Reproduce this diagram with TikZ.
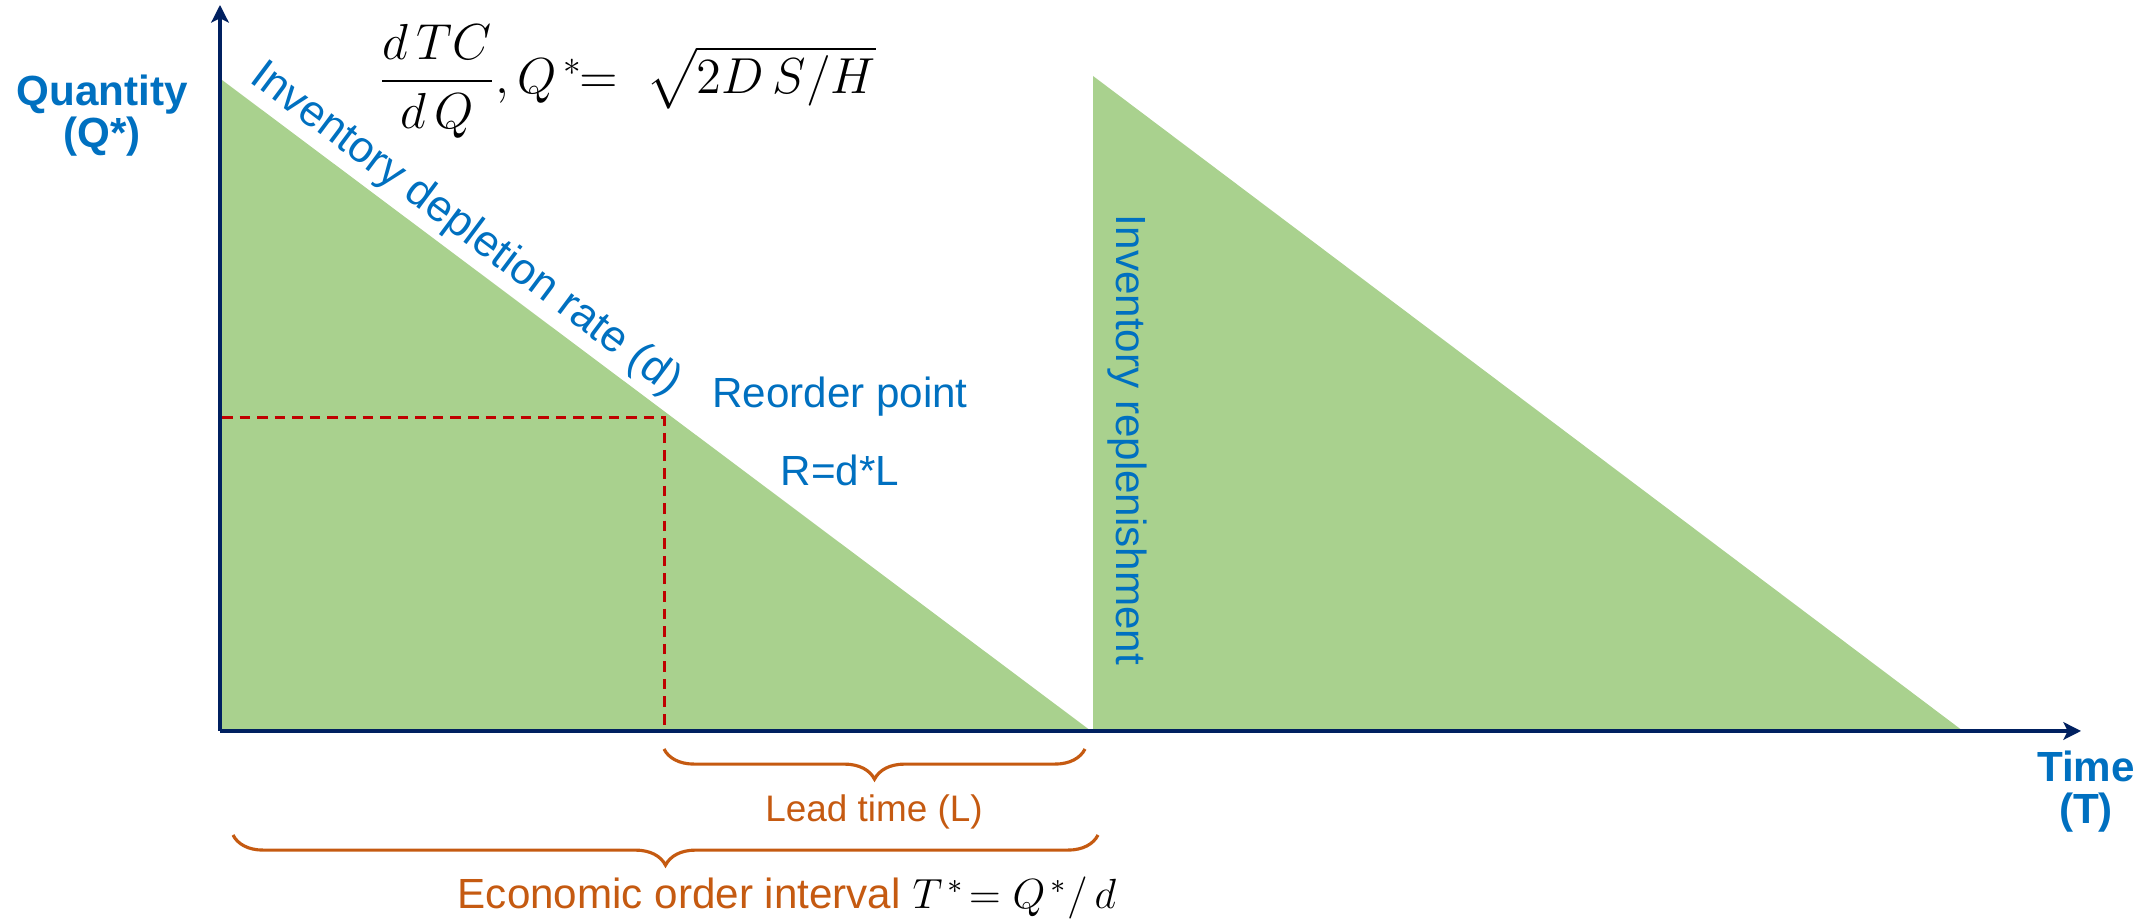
\documentclass[tikz,border=0pt]{standalone}
\usepackage{amsmath}
\usepackage{fontspec}
\setmainfont{Liberation Sans}
\usetikzlibrary{arrows.meta,decorations.pathreplacing}
\definecolor{stockgreen}{HTML}{A9D18E}
\definecolor{labelblue}{HTML}{0070C0}
\definecolor{axisnavy}{HTML}{002060}
\definecolor{spanorange}{HTML}{C55A11}
\definecolor{reorderred}{HTML}{C00000}
\begin{document}
\begin{tikzpicture}[
  axisline/.style={axisnavy,line width=1.4pt,-{Stealth[length=5pt,width=5pt,inset=1.2pt]}},
  spanbrace/.style={spanorange,line width=0.9pt,decorate,decoration={brace,mirror,amplitude=8.6pt}},
  bluelabel/.style={labelblue,font=\fontsize{12}{12}\selectfont},
  axislabel/.style={labelblue,font=\fontsize{12}{12}\selectfont\bfseries,align=center},
  spanlabel/.style={spanorange,font=\fontsize{12}{12}\selectfont}
]
\useasboundingbox (0,0) rectangle (21.54,9.22);
\coordinate (O) at (2.20,1.91);
\coordinate (Ytop) at (2.20,9.17);
\coordinate (Xend) at (20.81,1.91);
\coordinate (A1) at (2.22,8.42);
\coordinate (F1) at (2.22,1.91);
\coordinate (B1) at (10.91,1.91);
\coordinate (A2) at (10.93,8.46);
\coordinate (F2) at (10.93,1.91);
\coordinate (B2) at (19.63,1.91);
\coordinate (RP) at (6.64,5.04);
\coordinate (RPx) at (2.22,5.04);
\coordinate (RPt) at (6.64,1.91);
\coordinate (LT1) at (6.64,1.73);
\coordinate (LT2) at (10.85,1.73);
\coordinate (EI1) at (2.33,0.87);
\coordinate (EI2) at (10.98,0.87);
% inventory cycles
\fill[stockgreen] (A1) -- (F1) -- (B1) -- cycle;
\fill[stockgreen] (A2) -- (F2) -- (B2) -- cycle;
\path (A1) -- (B1) node[pos=0.262,sloped,above,inner sep=1.5pt,labelblue,font=\fontsize{12.5}{12.5}\selectfont] (rate) {Inventory depletion rate (d)};
% reorder point
\draw[reorderred,line width=0.85pt,dash pattern=on 3pt off 2pt] (RPx) -- (RP) -- (RPt);
% axes
\draw[axisline] (O) -- (Ytop);
\draw[axisline] (O) -- (Xend);
\node[axislabel] (qty) at (1.02,8.06) {Quantity\\(Q*)};
\node[axislabel] (time) at (20.86,1.30) {Time\\(T)};
\node[font=\fontsize{14}{16}\selectfont] (eoq) at (6.27,8.41) {$\dfrac{d\,TC}{d\,Q},Q^{\,*}\!\!=\;\sqrt{2D\,S/H}$};
\node[bluelabel] (reorder) at (8.40,5.25) {Reorder point};
\node[bluelabel] (rule) at (8.40,4.52) {R=d*L};
\node[bluelabel,rotate=-90] (refill) at (11.27,4.82) {Inventory replenishment};
% lead time and order interval
\draw[spanbrace] (LT1) -- (LT2);
\draw[spanbrace] (EI1) -- (EI2);
\node[spanlabel,font=\fontsize{10.5}{10.5}\selectfont] (lead) at (8.74,1.10) {Lead time (L)};
\node[spanlabel] (interval) at (7.87,0.24) {Economic order interval {\color{black}$T^{\,*}\!=Q^{\,*}/\,d$}};
\end{tikzpicture}
\end{document}
